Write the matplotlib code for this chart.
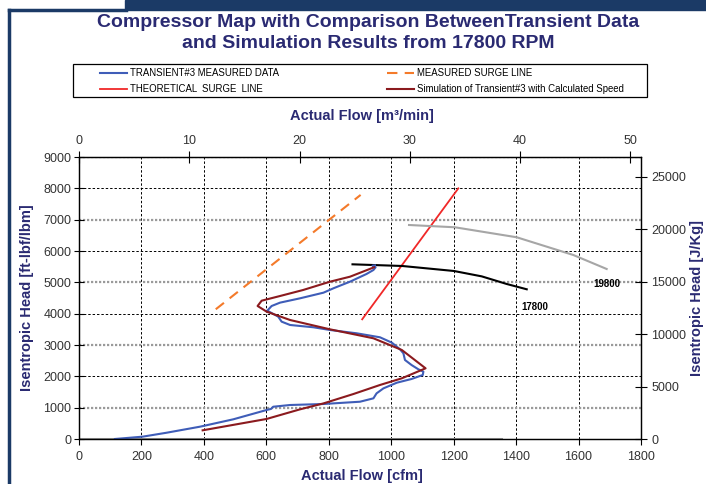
import numpy as np
import matplotlib
matplotlib.use("Agg")
import matplotlib.pyplot as plt
from matplotlib.patches import Rectangle
from matplotlib.lines import Line2D

plt.rcParams['font.family'] = ['Liberation Sans', 'DejaVu Sans']

# Unit conversions for the secondary axes
FT_LBF_LBM_TO_J_KG = 2.98907
CFM_TO_M3_MIN = 0.0283168

# Transient #3 measured data (cfm, ft-lbf/lbm)
meas_flow = [115, 204, 281, 388, 494, 601, 615, 622, 676, 783, 900, 943,
             953, 975, 1018, 1065, 1101, 1103, 1087, 1065, 1044, 1039, 1028,
             1002, 964, 889, 804, 751, 676, 649, 638, 603, 617, 644, 708,
             783, 815, 868, 921, 943, 950, 940, 948]
meas_head = [0, 75, 201, 394, 628, 926, 960, 1030, 1085, 1117, 1190, 1298,
             1456, 1616, 1797, 1915, 2043, 2148, 2224, 2362, 2522, 2735, 2863,
             3075, 3246, 3374, 3479, 3565, 3639, 3745, 3905, 4096, 4245, 4352, 4490,
             4670, 4810, 5021, 5267, 5394, 5480, 5530, 5540]

# Simulation of transient #3 with calculated speed
sim_flow = [396, 601, 708, 783, 879, 964, 1034, 1110, 1034, 943, 804, 676,
            601, 572, 585, 644, 718, 804, 868, 945]
sim_head = [277, 640, 947, 1136, 1436, 1724, 1937, 2256, 2841, 3214, 3500, 3798,
            4064, 4245, 4414, 4564, 4756, 5021, 5180, 5480]

# Surge lines
surge_meas_flow = [438, 902]
surge_meas_head = [4140, 7790]
surge_theo_flow = [907, 1215]
surge_theo_head = [3820, 8000]

# Speed lines
speed_17800_flow = [876, 1035, 1201, 1290, 1370, 1434]
speed_17800_head = [5575, 5522, 5362, 5190, 4947, 4778]
speed_19800_flow = [1057, 1204, 1402, 1583, 1690]
speed_19800_head = [6830, 6757, 6438, 5873, 5426]

# zero baseline series
zero_flow = [0, 1350]
zero_head = [0, 0]

NAVY = '#2A2A72'
FRAME = '#1B3A66'

fig = plt.figure(figsize=(7.06, 4.84), dpi=100)
W, H = 706.0, 484.0

# slide decorations
fig.patches.append(Rectangle((125 / W, 1 - 10 / H), 1, 10 / H, transform=fig.transFigure,
                             color=FRAME, zorder=0))
fig.lines.append(Line2D([9 / W, 9 / W], [0, 1 - 10 / H], transform=fig.transFigure,
                        color=FRAME, lw=2.5))
fig.lines.append(Line2D([9 / W, 126 / W], [1 - 10 / H, 1 - 10 / H], transform=fig.transFigure,
                        color=FRAME, lw=2.5))

ax = fig.add_axes([79 / W, 1 - 439 / H, 562 / W, 282 / H])
ax.set_xlim(0, 1800)
ax.set_ylim(0, 9000)
ax.set_xticks(np.arange(0, 1801, 200))
ax.set_yticks(np.arange(0, 9001, 1000))

# grid: vertical dashed black, horizontal alternating black dashed / grey dotted
ax.grid(True, axis='x', color='black', lw=0.7, ls=(0, (2.5, 2)))
ax.grid(True, axis='y', color='black', lw=0.7, ls=(0, (2.5, 2)))
for i, gl in enumerate(ax.get_ygridlines()):
    if i % 2 == 1:
        gl.set_color('#9a9a9a')
        gl.set_linewidth(1.6)
        gl.set_linestyle((0, (1, 0.8)))
ax.set_axisbelow(True)

ax.plot(zero_flow, zero_head, color='#9a9a9a', lw=2.2)
l_msurge, = ax.plot(surge_meas_flow, surge_meas_head, color='#F47A2A', lw=1.5,
                    ls=(0, (5, 3.5)), label='MEASURED SURGE LINE')
l_tsurge, = ax.plot(surge_theo_flow, surge_theo_head, color='#F02828', lw=1.3,
                    label='THEORETICAL  SURGE  LINE')
ax.plot(speed_17800_flow, speed_17800_head, color='black', lw=1.5)
ax.plot(speed_19800_flow, speed_19800_head, color='#a6a6a6', lw=1.5)
l_meas, = ax.plot(meas_flow, meas_head, color='#3F5DB8', lw=1.5,
                  label='TRANSIENT#3 MEASURED DATA')
l_sim, = ax.plot(sim_flow, sim_head, color='#8B1A1E', lw=1.5,
                 label='Simulation of Transient#3 with Calculated Speed')

ax.text(1460, 4222, '17800', fontsize=7, fontweight='bold', ha='center', va='center')
ax.text(1690, 4938, '19800', fontsize=7, fontweight='bold', ha='center', va='center')

ax.tick_params(axis='y', direction='inout', length=7, labelsize=9, labelcolor='#333333', pad=2)
ax.tick_params(axis='x', direction='out', length=4, labelsize=9, labelcolor='#333333', pad=5)
for sp in ax.spines.values():
    sp.set_linewidth(0.9)

# top axis in m3/min
ax_top = ax.twiny()
ax_top.set_xlim(0, 1800 * CFM_TO_M3_MIN)
ax_top.set_xticks(np.arange(0, 51, 10))
ax_top.tick_params(axis='x', direction='inout', length=8, labelsize=9,
                   labelcolor='#333333', pad=3)

# right axis in J/kg
ax_r = ax.twinx()
ax_r.set_ylim(0, 9000 * FT_LBF_LBM_TO_J_KG)
ax_r.set_yticks(np.arange(0, 25001, 5000))
ax_r.tick_params(axis='y', direction='inout', length=9, labelsize=9,
                 labelcolor='#333333', pad=3)

# axis titles
fig.text(362 / W, 1 - 476 / H, 'Actual Flow [cfm]', ha='center', va='center',
         fontsize=10.5, fontweight='bold', color=NAVY)
fig.text(362 / W, 1 - 116 / H, 'Actual Flow [m³/min]', ha='center', va='center',
         fontsize=10.5, fontweight='bold', color=NAVY)
fig.text(27 / W, 1 - 298 / H, 'Isentropic Head [ft-lbf/lbm]', ha='center', va='center',
         rotation=90, fontsize=10.5, fontweight='bold', color=NAVY)
fig.text(697 / W, 1 - 298 / H, 'Isentropic Head [J/Kg]', ha='center', va='center',
         rotation=90, fontsize=10.5, fontweight='bold', color=NAVY)

fig.text(368 / W, 1 - 33 / H,
         'Compressor Map with Comparison BetweenTransient Data\nand Simulation Results from 17800 RPM',
         ha='center', va='center', fontsize=14, fontweight='bold', color=NAVY,
         linespacing=1.35)

# legend with a separate box
fig.patches.append(Rectangle((73 / W, 1 - 97 / H), 574 / W, 33 / H, transform=fig.transFigure,
                             fill=False, edgecolor='black', lw=0.9))
fig.legend(handles=[l_meas, l_tsurge, l_msurge, l_sim], ncol=2, frameon=False,
           loc='center', bbox_to_anchor=(362 / W, 1 - 81 / H),
           fontsize=6.9, handlelength=2.8, handletextpad=0.35, columnspacing=11.3,
           labelspacing=0.6)

fig.savefig('out.png', dpi=100)
